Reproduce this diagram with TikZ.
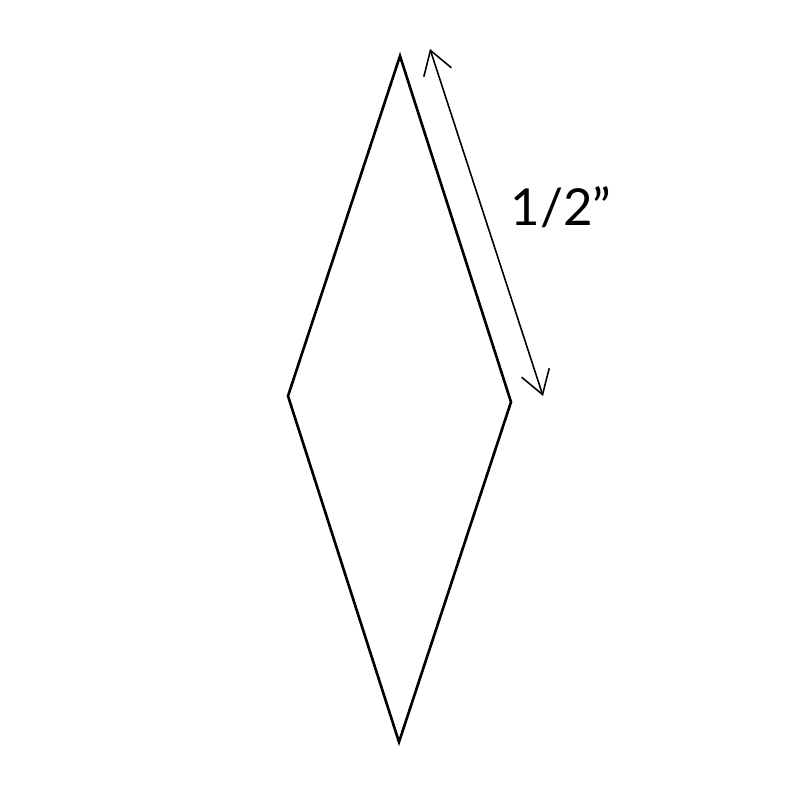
\documentclass[tikz,border=0pt]{standalone}
\usepackage{fontspec}
\setmainfont{Lato}
\usetikzlibrary{arrows.meta}

\begin{document}
\begin{tikzpicture}[x=0.02cm, y=-0.02cm,
                    piece/.style={line width=1.5pt, line join=miter},
                    measure/.style={line width=0.9pt,
                        {Straight Barb[length=4.6mm, width=5.8mm]}-{Straight Barb[length=4.6mm, width=5.8mm]}}]
\useasboundingbox (0,0) rectangle (800,800);
\coordinate (top) at (400,56);
\coordinate (left) at (288,396);
\coordinate (right) at (511,402);
\coordinate (bottom) at (399,742);
\draw[piece] (top) -- (right) -- (bottom) -- (left) -- cycle;
\coordinate (a) at (430,49);
\coordinate (b) at (543,396);
\draw[measure] (a) -- (b);
\node[font=\fontsize{29}{34}\selectfont] (len) at (561,207) {1/2”};
\end{tikzpicture}
\end{document}
